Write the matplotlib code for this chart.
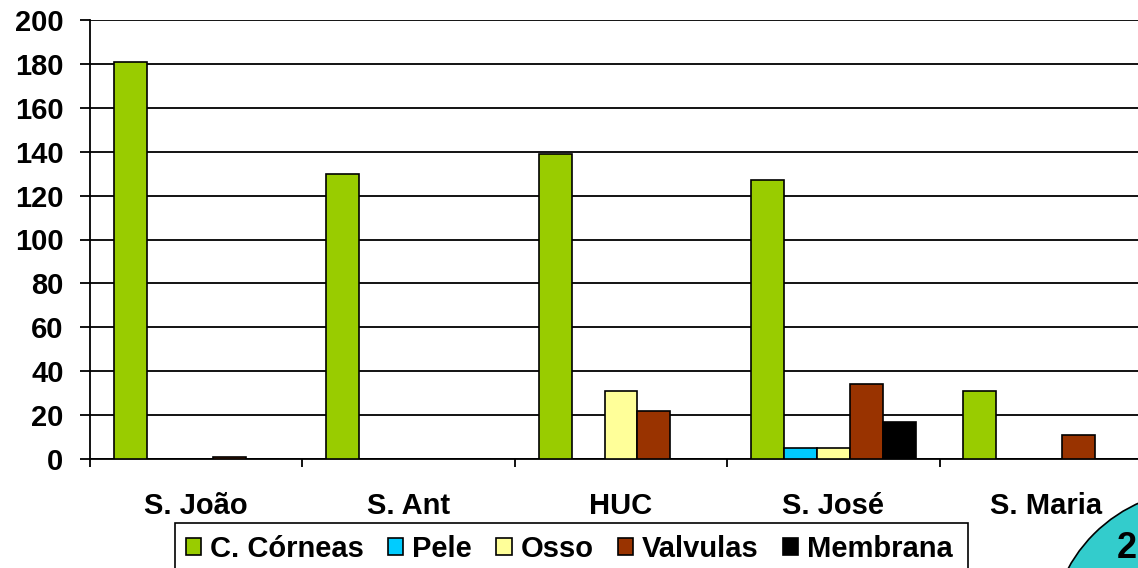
import matplotlib
matplotlib.use("Agg")
import matplotlib.pyplot as plt
from matplotlib.patches import Patch, Ellipse, Rectangle
import numpy as np

# hospitals and tissue counts
hospitals = ["S. João", "S. Ant", "HUC", "S. José", "S. Maria"]
series = ["C. Córneas", "Pele", "Osso", "Valvulas", "Membrana"]
corneas = [181, 130, 139, 127, 31]
pele = [0, 0, 0, 5, 0]
osso = [0, 0, 31, 5, 0]
valvulas = [1, 0, 22, 34, 11]
membrana = [0, 0, 0, 17, 0]
colors = ["#99CC00", "#00CCFF", "#FFFF99", "#993300", "#000000"]

plt.rcParams['font.family'] = ['Liberation Sans', 'DejaVu Sans']
plt.rcParams['font.weight'] = 'bold'
fs = 21

W, H = 1138, 568
fig = plt.figure(figsize=(W / 100, H / 100), dpi=100)
ax = fig.add_axes([90 / W, 109 / H, 5 * 212.4 / W, 439 / H])

x = np.arange(len(hospitals))
w = 0.155
values = [corneas, pele, osso, valvulas, membrana]
for k, (vals, c) in enumerate(zip(values, colors)):
    ax.bar(x + (k - 2) * w, vals, w, color=c, edgecolor='black', linewidth=1.2, zorder=3)

ax.set_xlim(-0.5, 4.5)
ax.set_ylim(0, 200)
ax.set_yticks(range(0, 201, 20))
ax.yaxis.grid(True, color='black', linewidth=1.3, zorder=0)
ax.set_axisbelow(True)

ax.set_xticks(x)
ax.set_xticklabels(hospitals)
ax.set_xticks(np.arange(-0.5, 5, 1), minor=True)
ax.tick_params(axis='x', which='major', length=0, pad=24, labelsize=fs)
ax.tick_params(axis='x', which='minor', length=6, width=1.3, direction='out')
ax.tick_params(axis='y', length=7, width=1.3, pad=12, labelsize=fs)

for s in ['top', 'right']:
    ax.spines[s].set_visible(False)
for s in ['left', 'bottom']:
    ax.spines[s].set_linewidth(1.3)

# legend: box drawn separately so it runs off the bottom like the original
fig.patches.append(Rectangle((175 / W, -20 / H), (968 - 175) / W, (45 + 20) / H,
                             transform=fig.transFigure, facecolor='white',
                             edgecolor='black', linewidth=1.2))
handles = [Patch(facecolor=c, edgecolor='black', linewidth=1.2) for c in colors]
leg = fig.legend(handles, series, loc='upper left', bbox_to_anchor=(186 / W, 33 / H),
                 ncol=5, fontsize=fs, frameon=False,
                 handlelength=0.52, handleheight=0.52, handletextpad=0.3,
                 columnspacing=0.84, borderpad=0, borderaxespad=0)

# slide decoration in the corner
circ = Ellipse((1200 / W, -72 / H), 300 / W, 300 / H, transform=fig.transFigure,
               facecolor='#33CCCC', edgecolor='black', linewidth=1.2)
fig.patches.append(circ)
fig.text(1137 / W, 20 / H, "2", fontsize=26, fontweight='bold', va='center', ha='right')

fig.savefig("out.png", dpi=100)
